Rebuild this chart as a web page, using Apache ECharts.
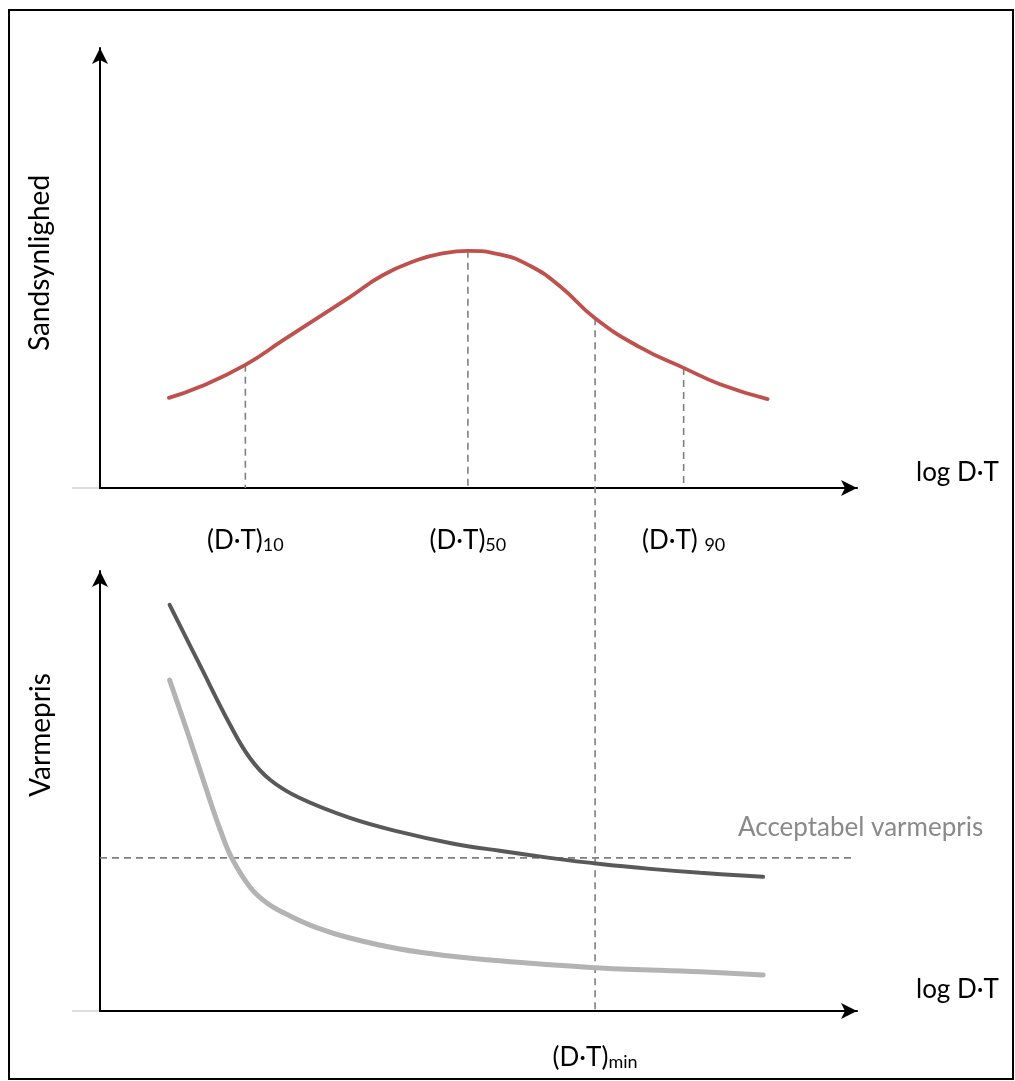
<!DOCTYPE html>
<html>
<head>
<meta charset="utf-8">
<script src="https://cdn.jsdelivr.net/npm/echarts@6/dist/echarts.min.js"></script>
<style>
  html, body { margin: 0; padding: 0; background: #fff; }
  #chart { width: 1015px; height: 1081px; }
</style>
</head>
<body>
<div id="chart"></div>
<script>
const FONT = 'Lato, "Open Sans", sans-serif';

// Probability density over log D·T (upper panel), both axes on a 0–10 scale
const bellX = [0.91, 1.32, 1.92, 2.42, 2.87, 3.30, 3.74, 4.19, 4.49, 4.86, 5.28, 5.68, 6.08, 6.54, 7.13, 7.71, 8.19, 8.82];
const bellY = [2.05, 2.30, 2.80, 3.36, 3.86, 4.34, 4.84, 5.18, 5.32, 5.39, 5.31, 5.05, 4.58, 3.86, 3.20, 2.73, 2.36, 2.02];

// Heat price against log D·T (lower panel): upper (dark) and lower (light) curve
const priceHighX = [0.92, 1.32, 1.72, 1.98, 2.25, 2.64, 3.30, 3.96, 4.62, 5.28, 5.94, 6.61, 7.27, 7.93, 8.76];
const priceHighY = [9.23, 7.86, 6.50, 5.75, 5.25, 4.84, 4.39, 4.07, 3.82, 3.64, 3.48, 3.34, 3.23, 3.14, 3.05];
const priceLowX = [0.92, 1.19, 1.45, 1.59, 1.74, 1.98, 2.21, 2.51, 2.87, 3.30, 3.96, 4.62, 5.28, 6.61, 7.93, 8.76];
const priceLowY = [7.52, 6.16, 4.80, 4.11, 3.48, 2.82, 2.45, 2.16, 1.89, 1.66, 1.41, 1.25, 1.14, 0.98, 0.89, 0.82];

// Acceptable heat price level and where its guide line stops
const acceptablePrice = 3.48;
const acceptableEnd = 9.97;

// Percentile markers on the log D·T axis and the minimum D·T
const quantileX = [1.92, 4.86, 7.71];
const quantileSub = ['10', '50', '90'];
const quantileGap = ['', '', ' '];
const dtMinX = 6.54;

// Texts
const yTitleTop = 'Sandsynlighed';
const yTitleBottom = 'Varmepris';
const xTitle = 'log D·T';
const acceptableText = 'Acceptabel varmepris';

const zip = (xs, ys) => xs.map((x, i) => [x, ys[i]]);
const bellAt = x => bellY[bellX.indexOf(x)];

const chart = echarts.init(document.getElementById('chart'), null, { renderer: 'canvas' });

function axisCfg(i) {
  return {
    type: 'value', gridIndex: i, min: 0, max: 10,
    axisLine: { show: true, onZero: false, symbol: ['none', 'arrow'], symbolSize: [12, 16],
      lineStyle: { color: '#000', width: 2 } },
    axisTick: { show: false }, axisLabel: { show: false }, splitLine: { show: false }
  };
}

const dashStyle = { color: '#7f7f7f', width: 1.6, type: [7, 5] };

const series = [
  {
    name: 'Sandsynlighed', type: 'line', xAxisIndex: 0, yAxisIndex: 0,
    data: zip(bellX, bellY), smooth: 0.5, symbol: 'none', z: 5,
    lineStyle: { color: '#c0504d', width: 3.8, cap: 'round' }
  },
  ...quantileX.map(qx => ({
    type: 'line', xAxisIndex: 0, yAxisIndex: 0, symbol: 'none', silent: true, z: 2,
    data: [[qx, bellAt(qx)], [qx, 0]], lineStyle: dashStyle
  })),
  {
    name: 'Varmepris høj', type: 'line', xAxisIndex: 1, yAxisIndex: 1,
    data: zip(priceHighX, priceHighY), smooth: 0.4, symbol: 'none', z: 5,
    lineStyle: { color: '#595959', width: 4, cap: 'round' }
  },
  {
    name: 'Varmepris lav', type: 'line', xAxisIndex: 1, yAxisIndex: 1,
    data: zip(priceLowX, priceLowY), smooth: 0.4, symbol: 'none', z: 4,
    lineStyle: { color: '#b3b3b3', width: 5, cap: 'round' }
  },
  {
    type: 'line', xAxisIndex: 1, yAxisIndex: 1, symbol: 'none', silent: true, z: 2,
    data: [[0, acceptablePrice], [acceptableEnd, acceptablePrice]], lineStyle: dashStyle
  }
];

chart.setOption({
  animation: false,
  backgroundColor: '#fff',
  grid: [
    { left: 100, top: 48, width: 757, height: 440 },
    { left: 100, top: 571, width: 757, height: 440 }
  ],
  xAxis: [axisCfg(0), axisCfg(1)],
  yAxis: [axisCfg(0), axisCfg(1)],
  series: series
});

// Annotations placed through the axes' own coordinate systems
const upperPanel = { xAxisIndex: 0, yAxisIndex: 0 };
const lowerPanel = { xAxisIndex: 1, yAxisIndex: 1 };
const origUpper = chart.convertToPixel(upperPanel, [0, 0]);
const origLower = chart.convertToPixel(lowerPanel, [0, 0]);

const subRich = () => ({
  m: { fontSize: 26, fontFamily: FONT, fill: '#000', lineHeight: 32, verticalAlign: 'bottom' },
  s: { fontSize: 18, fontFamily: FONT, fill: '#000', lineHeight: 14, verticalAlign: 'bottom' }
});

const graphics = [];

// outer frame
graphics.push({ type: 'rect', shape: { x: 9, y: 10, width: 1004, height: 1069 },
  style: { fill: 'none', stroke: '#000', lineWidth: 2 }, z: 0, silent: true });

// faint lead-in of the horizontal axes
[origUpper, origLower].forEach(o => graphics.push({
  type: 'line', shape: { x1: o[0] - 28, y1: o[1], x2: o[0], y2: o[1] },
  style: { stroke: '#d0d0d0', lineWidth: 1.5 }, silent: true
}));

// guide from the density curve at (D·T)min down to the price axis
const pMinUpper = chart.convertToPixel(upperPanel, [dtMinX, bellAt(dtMinX)]);
const pMinLower = chart.convertToPixel(lowerPanel, [dtMinX, 0]);
graphics.push({
  type: 'line', shape: { x1: pMinUpper[0], y1: pMinUpper[1], x2: pMinLower[0], y2: pMinLower[1] },
  style: { stroke: '#7f7f7f', lineWidth: 1.6, lineDash: [7, 5] }, z: 2, silent: true
});

// percentile labels under the upper axis
quantileX.forEach((qx, i) => {
  const p = chart.convertToPixel(upperPanel, [qx, 0]);
  graphics.push({
    type: 'text', x: p[0], y: p[1] + 50, silent: true,
    style: { text: '{m|(D·T)' + quantileGap[i] + '}{s|' + quantileSub[i] + '}', rich: subRich(),
      align: 'center', verticalAlign: 'middle' }
  });
});

// (D·T)min label under the lower axis
graphics.push({
  type: 'text', x: pMinLower[0], y: pMinLower[1] + 44, silent: true,
  style: { text: '{m|(D·T)}{s|min}', rich: subRich(), align: 'center', verticalAlign: 'middle' }
});

// x-axis titles
graphics.push({ type: 'text', x: 916, y: origUpper[1] - 15, silent: true,
  style: { text: xTitle, font: '26px ' + FONT, fill: '#000', align: 'left', verticalAlign: 'middle' } });
graphics.push({ type: 'text', x: 916, y: origLower[1] - 21, silent: true,
  style: { text: xTitle, font: '26px ' + FONT, fill: '#000', align: 'left', verticalAlign: 'middle' } });

// y-axis titles
graphics.push({ type: 'text', x: 40, y: 263, rotation: Math.PI / 2, silent: true,
  style: { text: yTitleTop, font: '28px ' + FONT, fill: '#000', align: 'center', verticalAlign: 'middle' } });
graphics.push({ type: 'text', x: 41, y: 735, rotation: Math.PI / 2, silent: true,
  style: { text: yTitleBottom, font: '28px ' + FONT, fill: '#000', align: 'center', verticalAlign: 'middle' } });

// acceptable price label
const pAcc = chart.convertToPixel(lowerPanel, [0, acceptablePrice]);
graphics.push({ type: 'text', x: 738, y: pAcc[1] - 30, silent: true,
  style: { text: acceptableText, font: '26px ' + FONT, fill: '#8a8a8a', align: 'left', verticalAlign: 'middle' } });

chart.setOption({ graphic: graphics });
</script>
</body>
</html>
